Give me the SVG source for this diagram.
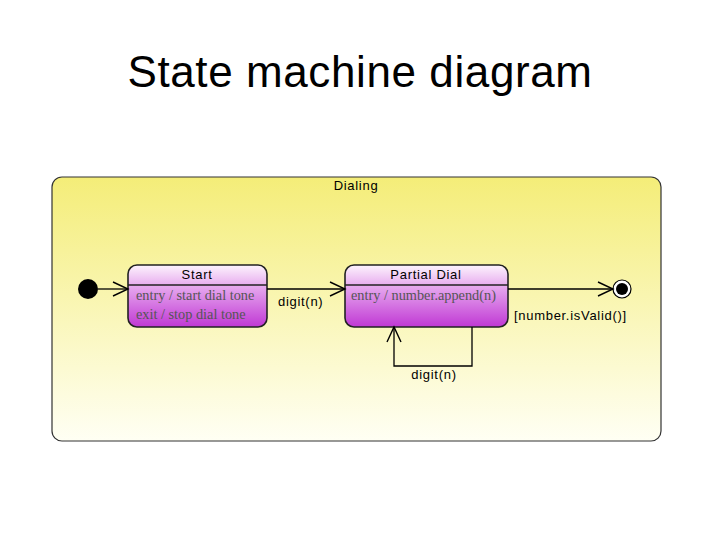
<svg xmlns="http://www.w3.org/2000/svg" width="720" height="540" viewBox="0 0 720 540">
<defs>
<linearGradient id="yel" x1="0" y1="0" x2="0" y2="1">
<stop offset="0" stop-color="#f4ed78"/>
<stop offset="1" stop-color="#fffff4"/>
</linearGradient>
<linearGradient id="mag" x1="0" y1="0" x2="0" y2="1">
<stop offset="0" stop-color="#fdf4fd"/>
<stop offset="0.35" stop-color="#e6a8ee"/>
<stop offset="1" stop-color="#c038d4"/>
</linearGradient>
<marker id="open" markerWidth="18" markerHeight="18" refX="16" refY="9" orient="auto" markerUnits="userSpaceOnUse">
<path d="M1,2 L16,9 L1,16" fill="none" stroke="#000" stroke-width="1.4"/>
</marker>
<style>
.title{font-family:"Liberation Sans",Arial,sans-serif;font-size:44px;letter-spacing:0.6px;fill:#000}
.lbl{font-family:"Liberation Sans",Arial,sans-serif;font-size:13px;letter-spacing:0.7px;fill:#000}
.act{font-family:"Liberation Serif","Times New Roman",serif;font-size:14.3px;fill:#555}
.state{fill:url(#mag);stroke:#222;stroke-width:1.6}
.div{stroke:#222;stroke-width:1.6}
.edge{fill:none;stroke:#000;stroke-width:1.3;marker-end:url(#open)}
</style>
</defs>
<rect width="720" height="540" fill="#fff"/>
<text class="title" x="360" y="87" text-anchor="middle">State machine diagram</text>
<g id="dialing">
<rect x="52" y="177" width="609" height="264" rx="10" fill="url(#yel)" stroke="#333" stroke-width="1.2"/>
<text class="lbl" x="356" y="190" text-anchor="middle">Dialing</text>
</g>
<g id="initial">
<circle cx="88" cy="289" r="10" fill="#000"/>
</g>
<g id="start">
<rect class="state" x="128" y="265" width="139" height="62" rx="9"/>
<line class="div" x1="128" y1="285" x2="267" y2="285"/>
<text class="lbl" x="197" y="279" text-anchor="middle">Start</text>
<text class="act" x="136" y="300">entry / start dial tone</text>
<text class="act" x="136" y="319">exit / stop dial tone</text>
</g>
<g id="partial">
<rect class="state" x="345" y="265" width="163" height="62" rx="9"/>
<line class="div" x1="345" y1="285" x2="508" y2="285"/>
<text class="lbl" x="426" y="279" text-anchor="middle">Partial Dial</text>
<text class="act" x="351" y="300">entry / number.append(n)</text>
</g>
<g id="final">
<circle cx="622" cy="289" r="9" fill="#fff" stroke="#000" stroke-width="1.2"/>
<circle cx="622" cy="289" r="6" fill="#000"/>
</g>
<g id="connectors">
<line class="edge" x1="98" y1="289" x2="128" y2="289"/>
<line class="edge" x1="267" y1="289" x2="345" y2="289"/>
<text class="lbl" x="278" y="306">digit(n)</text>
<line class="edge" x1="508" y1="289" x2="613" y2="289"/>
<text class="lbl" x="514" y="320">[number.isValid()]</text>
<polyline class="edge" points="472,327 472,366 394,366 394,327"/>
<text class="lbl" x="434" y="379" text-anchor="middle">digit(n)</text>
</g>
</svg>
